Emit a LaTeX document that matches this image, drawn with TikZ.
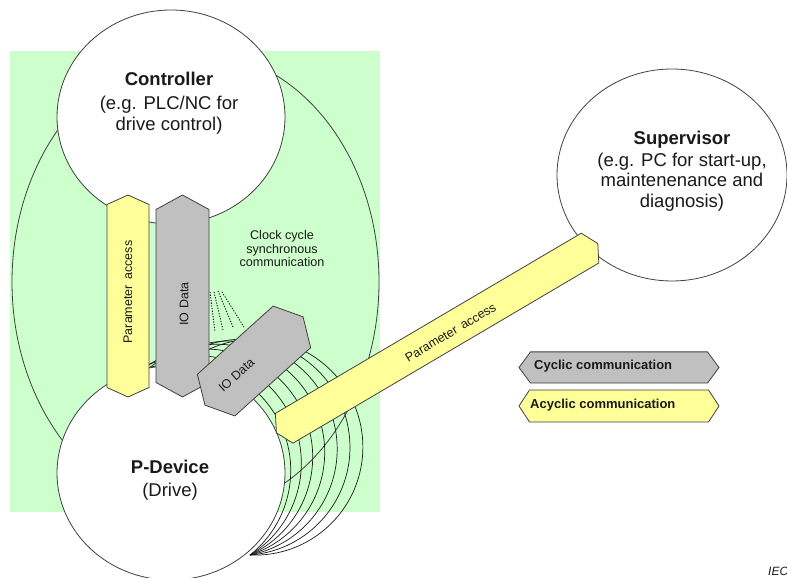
\documentclass[tikz,border=0pt]{standalone}
\usepackage{fontspec}
\setmainfont{Liberation Sans}
\usetikzlibrary{shapes.geometric}

\definecolor{bggreen}{HTML}{CCFFCC}
\definecolor{paryellow}{HTML}{FFFF99}
\definecolor{iogrey}{HTML}{C0C0C0}
\definecolor{edgegrey}{HTML}{404040}
\definecolor{inkgrey}{HTML}{1A1A1A}

% elongated hexagon: centre x, centre y, angle, half length, half width, tip depth, style
\newcommand{\hexbar}[7]{%
  \begin{scope}[shift={(#1,#2)}, rotate=#3]
    \draw[#7] (-#4,0) -- ({-#4+#6},#5) -- ({#4-#6},#5) -- (#4,0)
      -- ({#4-#6},-#5) -- ({-#4+#6},-#5) -- cycle;
  \end{scope}}

\newcommand{\unitfont}{\fontsize{18.5}{21}\selectfont}
\newcommand{\barfont}{\fontsize{12.5}{14}\selectfont}
\newcommand{\notefont}{\fontsize{12.6}{13.5}\selectfont}

\begin{document}
\begin{tikzpicture}[x=1pt, y=1pt,
  unit/.style={ellipse, draw=edgegrey, line width=0.8pt, fill=white, inner sep=0pt},
  yellowbar/.style={draw=edgegrey, line width=0.8pt, fill=paryellow},
  greybar/.style={draw=edgegrey, line width=0.8pt, fill=iogrey},
  fanline/.style={draw=inkgrey, line width=0.7pt},
  dotline/.style={draw=black, line width=0.9pt, dash pattern=on 1.1pt off 1.6pt},
  label/.style={text=inkgrey, inner sep=0pt}]

\useasboundingbox (0,0) rectangle (787,578);
\clip (0,0) rectangle (787,578);

% background of the clock-synchronous domain
\fill[bggreen] (10,66) rectangle (380,527);

% synchronous communication loop
\draw[edgegrey, line width=0.8pt] (195.5,296) ellipse [x radius=183.5, y radius=230];

% fan of clock-cycle waves, all meeting at one point on the device
\coordinate (E) at (250,23);
\foreach \b in {0,6.85,13.7,20.55,27.4,34.25,41.1}
  \draw[fanline, rotate around={\b:(E)}] (E) arc[start angle=-92.6, end angle=150, radius=108];

% dotted wave lines between the IO data blocks
\coordinate (d1a) at (210,286); \coordinate (d1b) at (215,246);
\coordinate (d2a) at (214,286); \coordinate (d2b) at (223,248);
\coordinate (d3a) at (218,287); \coordinate (d3b) at (233,251);
\coordinate (d4a) at (222,286); \coordinate (d4b) at (244,251);
\draw[dotline] (d1a) -- (d1b);
\draw[dotline] (d2a) -- (d2b);
\draw[dotline] (d3a) -- (d3b);
\draw[dotline] (d4a) -- (d4b);

% the three units
\node[unit, minimum width=228, minimum height=214] (controller) at (171,461) {};
\node[unit, minimum width=228, minimum height=214] (pdevice) at (171,105) {};
\node[unit, minimum width=230, minimum height=212] (supervisor) at (672,403) {};

% controller side channels
\hexbar{128}{282}{90}{101}{21}{9.5}{yellowbar}
\hexbar{182.5}{282}{90}{101}{26.5}{14.5}{greybar}
% device side IO data
\hexbar{254}{217}{42}{66}{28}{15}{greybar}
% acyclic parameter channel to the supervisor
\hexbar{437.1}{239.8}{30.5}{186.5}{17.3}{9}{yellowbar}

% legend
\hexbar{619}{210.5}{0}{100}{15.6}{11.5}{greybar}
\hexbar{619}{172}{0}{100}{16}{10.5}{yellowbar}
\node[label, anchor=base west, font=\fontsize{13}{15}\selectfont\bfseries] (cyclic) at (534,208.7) {Cyclic communication};
\node[label, anchor=base west, font=\fontsize{13}{15}\selectfont\bfseries] (acyclic) at (530,169.7) {Acyclic communication};

% texts of the units
\node[label, anchor=base, font=\unitfont\bfseries] (ctitle) at (169,492) {Controller};
\node[label, anchor=base, font=\unitfont] (cline1) at (169,468) {(e.g. PLC/NC for};
\node[label, anchor=base, font=\unitfont] (cline2) at (169,447) {drive control)};

\node[label, anchor=base, font=\unitfont\bfseries] (ptitle) at (170,104) {P-Device};
\node[label, anchor=base, font=\unitfont] (pline1) at (170,81) {(Drive)};

\node[label, anchor=base, font=\unitfont\bfseries] (stitle) at (682,433) {Supervisor};
\node[label, anchor=base, font=\unitfont] (sline1) at (682,411.5) {(e.g. PC for start-up,};
\node[label, anchor=base, font=\unitfont] (sline2) at (682,391) {maintenenance and};
\node[label, anchor=base, font=\unitfont] (sline3) at (682,370.5) {diagnosis)};

% channel labels
\node[label, font=\barfont, rotate=90] (parv) at (128,286) {Parameter\hspace{0.45em}access};
\node[label, font=\barfont, rotate=90] (iov) at (184,274) {IO Data};
\node[label, font=\barfont, rotate=42] (iot) at (236.5,203) {IO Data};
\node[label, font=\barfont, rotate=30.5] (pard) at (450.5,245.5) {Parameter\hspace{0.45em}access};

% synchronous communication note
\node[label, anchor=base, font=\notefont] (clk1) at (282,338) {Clock cycle};
\node[label, anchor=base, font=\notefont] (clk2) at (282,324) {synchronous};
\node[label, anchor=base, font=\notefont] (clk3) at (282,311) {communication};

\node[label, anchor=base west, font=\fontsize{12}{14}\selectfont\itshape] (iec) at (768,2.5) {IEC};
\end{tikzpicture}
\end{document}
